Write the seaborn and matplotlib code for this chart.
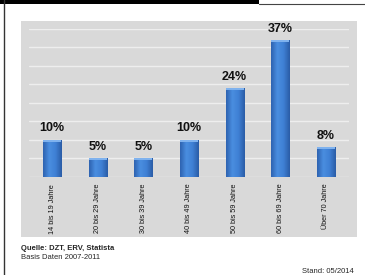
import matplotlib
matplotlib.use("Agg")
import matplotlib.pyplot as plt
import seaborn as sns
import pandas as pd
import numpy as np
from matplotlib.patches import Rectangle
from matplotlib.lines import Line2D
from matplotlib.colors import LinearSegmentedColormap

categories = ["14 bis 19 Jahre", "20 bis 29 Jahre", "30 bis 39 Jahre", "40 bis 49 Jahre",
              "50 bis 59 Jahre", "60 bis 69 Jahre", "Über 70 Jahre"]
values = [10, 5, 5, 10, 24, 37, 8]
labels = ["10%", "5%", "5%", "10%", "24%", "37%", "8%"]

sns.set_style("white")
plt.rcParams['font.family'] = ['Liberation Sans', 'DejaVu Sans']

W, H = 365, 275
fig = plt.figure(figsize=(W / 100, H / 100), dpi=100)
fig.patch.set_facecolor("white")

def fx(px):
    return px / W

def fy(py):
    return 1 - py / H

# gray panel
fig.add_artist(Rectangle((fx(21), fy(237)), fx(357) - fx(21), fy(20.5) - fy(237),
                         transform=fig.transFigure, facecolor="#d9d9d9", edgecolor="none", zorder=0))
# top black bar and line
fig.add_artist(Rectangle((0, fy(4)), fx(259), 1 - fy(4), transform=fig.transFigure,
                         facecolor="black", edgecolor="none", zorder=0))
fig.add_artist(Line2D([fx(259), 1], [fy(4.3), fy(4.3)], transform=fig.transFigure,
                      color="#444444", lw=0.8))
fig.add_artist(Line2D([fx(4), fx(4)], [0, 1], transform=fig.transFigure,
                      color="#333333", lw=1.0))

ax = fig.add_axes([fx(29.3), fy(176.7), fx(348.7) - fx(29.3), fy(29) - fy(176.7)])
ax.set_facecolor("none")

df = pd.DataFrame({"cat": categories, "val": values})
sns.barplot(data=df, x="cat", y="val", ax=ax, color="#3a78cc", width=0.4,
            edgecolor="#2b5e9e", linewidth=0.6, saturation=1, zorder=3)

ax.set_ylim(0, 40)
ax.set_xlim(-0.5, 6.5)

# cylinder-like shading for each bar, clipped to the bar patch
cmap = LinearSegmentedColormap.from_list("barshade", ["#2d62b0", "#4a8ee0", "#3f80d4", "#2a5ca6"])
grad = np.linspace(0, 1, 64).reshape(1, -1)
for p in ax.patches:
    x0, y0 = p.get_x(), p.get_y()
    w, h = p.get_width(), p.get_height()
    im = ax.imshow(grad, cmap=cmap, aspect="auto", extent=(x0, x0 + w, y0, y0 + h),
                   zorder=3.5, interpolation="bicubic")
    im.set_clip_path(p)
    cap_h = 0.5
    ax.add_patch(Rectangle((x0, y0 + h - cap_h), w, cap_h, facecolor="#7fb2ee",
                           edgecolor="none", zorder=3.6))
ax.set_xlim(-0.5, 6.5)
ax.set_ylim(0, 40)

ax.set_yticks(range(0, 41, 5))
ax.yaxis.grid(True, color="#eeeeee", lw=1.0, zorder=1)
ax.set_axisbelow(True)
ax.tick_params(axis="y", left=False, labelleft=False)
ax.tick_params(axis="x", bottom=False, labelsize=5.2, pad=1.5, labelcolor="#111111")
plt.setp(ax.get_xticklabels(), rotation=90, va="top", ha="center")
for s in ax.spines.values():
    s.set_visible(False)
ax.set_xlabel("")
ax.set_ylabel("")

for i, (v, lab) in enumerate(zip(values, labels)):
    ax.annotate(lab, (i, v), xytext=(0, 4), textcoords="offset points", ha="center",
                va="bottom", fontsize=9, fontweight="bold", color="#111111")

fig.text(fx(21), fy(248.5), "Quelle: DZT, ERV, Statista", fontsize=5.5, fontweight="bold",
         va="center", ha="left")
fig.text(fx(21), fy(257.5), "Basis Daten 2007-2011", fontsize=5.5, va="center", ha="left")
fig.text(fx(354), fy(271.5), "Stand: 05/2014", fontsize=5.5, va="center", ha="right")

fig.savefig("out.png", dpi=100)
